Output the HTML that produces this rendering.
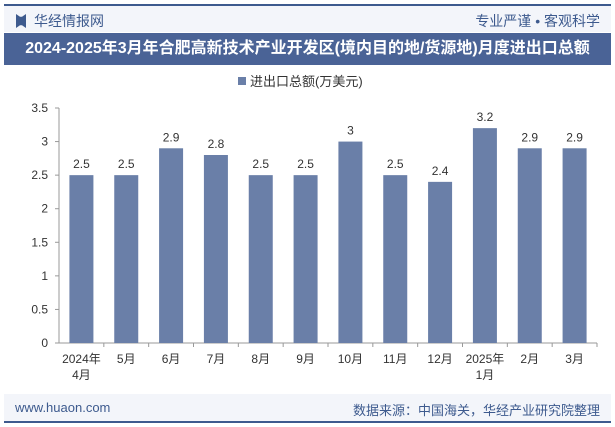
<!DOCTYPE html>
<html><head><meta charset="utf-8"><style>
body{margin:0;width:615px;height:427px;background:#fff;font-family:"Liberation Sans","Noto Sans CJK SC",sans-serif;overflow:hidden;position:relative}
.abs{position:absolute}
</style></head><body>
<div class="abs" style="left:4px;top:4px;width:607px;height:2px;background:#3d5a8e"></div>
<div class="abs" style="left:4px;top:6px;width:607px;height:26px;background:#f3f5fa"></div>
<div class="abs" style="left:16px;top:11px;font-size:14px;color:#3d5a8e"><span style="display:inline-block;width:10px;height:14px;background:#3d5a8e;vertical-align:-2px;margin-right:8px;clip-path:polygon(0 0,40% 20%,60% 20%,100% 0,100% 100%,60% 80%,40% 80%,0 100%)"></span>华经情报网</div>
<div class="abs" style="right:15px;top:11px;font-size:14px;color:#3d5a8e">专业严谨 • 客观科学</div>
<div class="abs" style="left:4px;top:33px;width:607px;height:32px;background:#4a6396;color:#fff;font-weight:bold;font-size:16px;line-height:32px;text-align:center">2024-2025年3月年合肥高新技术产业开发区(境内目的地/货源地)月度进出口总额</div>
<div class="abs" style="left:4px;top:394px;width:607px;height:27px;background:#f3f5fa"></div>
<div class="abs" style="left:15px;top:400px;font-size:13px;color:#3d5a8e">www.huaon.com</div>
<div class="abs" style="right:15px;top:400px;font-size:13px;color:#3d5a8e">数据来源：中国海关，华经产业研究院整理</div>
<div class="abs" style="left:4px;top:421px;width:607px;height:2px;background:#3d5a8e"></div>
<svg class="abs" style="left:0;top:0" width="615" height="427" id="chart"></svg>
<script>
const categories=["2024年\n4月","5月","6月","7月","8月","9月","10月","11月","12月","2025年\n1月","2月","3月"];
const values=[2.5,2.5,2.9,2.8,2.5,2.5,3,2.5,2.4,3.2,2.9,2.9];
const yTicks=[0,0.5,1,1.5,2,2.5,3,3.5];
const svg=document.getElementById('chart');const NS='http://www.w3.org/2000/svg';
const x0=59,x1=597,yB=343,yT=108,yMax=3.5;
const bw=(x1-x0)/categories.length;
const y=v=>yB-(v/yMax)*(yB-yT);
function mk(t,a,txt){const e=document.createElementNS(NS,t);for(const k in a)e.setAttribute(k,a[k]);if(txt!==undefined)e.textContent=txt;svg.appendChild(e);return e;}
let e=mk('rect',{x:238,y:77,width:8,height:8,fill:'#6a7fa8'});


e=mk('text',{x:250,y:86,'font-size':13,fill:'#333'},'进出口总额(万美元)');


yTicks.forEach(t=>{const l=mk('text',{x:48,y:y(t)+4,'font-size':12,fill:'#333','text-anchor':'end'},String(t));


mk('line',{x1:55,x2:59,y1:y(t),y2:y(t),stroke:'#999'});});
mk('line',{x1:59,x2:59,y1:yT,y2:yB,stroke:'#999'});
mk('line',{x1:59,x2:x1,y1:yB,y2:yB,stroke:'#999'});
categories.forEach((c,i)=>{const cx=x0+bw*(i+0.5);
mk('line',{x1:x0+bw*(i+1),x2:x0+bw*(i+1),y1:yB,y2:yB+4,stroke:'#999'});
const v=values[i];
const r=mk('rect',{x:cx-12,y:y(v),width:24,height:yB-y(v),fill:'#6a7fa8'});


const lv=mk('text',{x:cx,y:y(v)-7,'font-size':12,fill:'#333','text-anchor':'middle'},String(v));


c.split('\n').forEach((ln,j)=>{const t=mk('text',{x:cx,y:363+j*16,'font-size':12,fill:'#333','text-anchor':'middle'},ln);

});
});
</script>
</body></html>
